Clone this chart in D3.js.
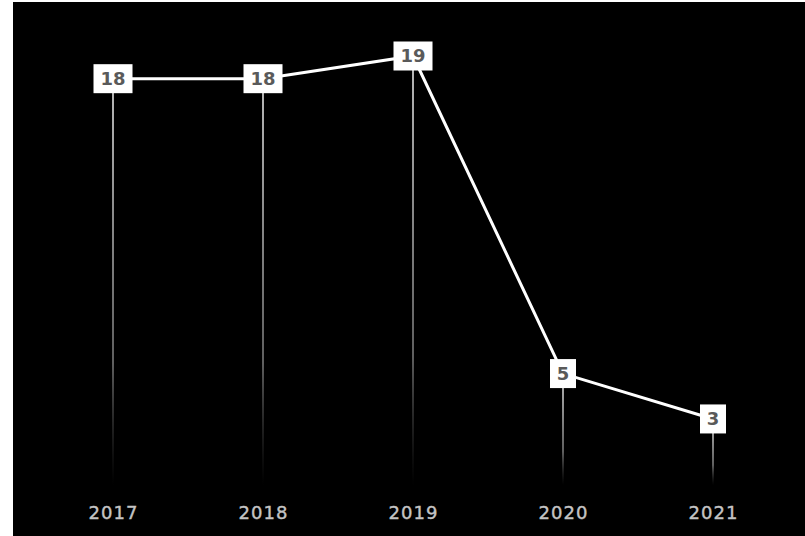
<!DOCTYPE html>
<html><head><meta charset="utf-8">
<script src="https://cdn.jsdelivr.net/npm/d3@7"></script>
<style>
html,body{margin:0;padding:0;background:#fff;}
svg{display:block;}
</style></head>
<body>
<svg id="chart" width="805" height="536"></svg>
<script>
const years = ["2017","2018","2019","2020","2021"];
const values = [18, 18, 19, 5, 3];

const W = 805, H = 536;
const svg = d3.select("#chart");

svg.append("rect").attr("x",13).attr("y",2).attr("width",W-13).attr("height",H-2).attr("fill","#000");

const x = d3.scalePoint().domain(years).range([113, 713]);
const y = d3.scaleLinear().domain([0, 19]).range([487, 56]);

const defs = svg.append("defs");
const grad = defs.append("linearGradient").attr("id","fade").attr("x1",0).attr("y1",0).attr("x2",0).attr("y2",1);
grad.append("stop").attr("offset","0%").attr("stop-color","#bbb").attr("stop-opacity",1);
grad.append("stop").attr("offset","70%").attr("stop-color","#888").attr("stop-opacity",0.7);
grad.append("stop").attr("offset","100%").attr("stop-color","#444").attr("stop-opacity",0);

const data = years.map((yr,i)=>({yr, v: values[i]}));

// vertical stems
svg.selectAll("rect.stem").data(data).enter().append("rect")
  .attr("class","stem")
  .attr("x", d=>x(d.yr)-1)
  .attr("y", d=>y(d.v))
  .attr("width", 2)
  .attr("height", d=>485 - y(d.v))
  .attr("fill","url(#fade)");

// line
svg.append("path").datum(data)
  .attr("d", d3.line().x(d=>x(d.yr)).y(d=>y(d.v)))
  .attr("fill","none").attr("stroke","#fff").attr("stroke-width",3);

// label boxes
const g = svg.selectAll("g.lbl").data(data).enter().append("g")
  .attr("class","lbl")
  .attr("transform", d=>`translate(${x(d.yr)},${y(d.v)})`);
g.append("rect")
  .attr("x", d=> String(d.v).length>1 ? -19.5 : -13)
  .attr("y", -14.5)
  .attr("width", d=> String(d.v).length>1 ? 39 : 26)
  .attr("height", 29)
  .attr("fill","#fff");
g.append("text")
  .attr("text-anchor","middle")
  .attr("dy","0.36em")
  .attr("font-family","DejaVu Sans, sans-serif")
  .attr("font-weight","600")
  .attr("font-size",18)
  .attr("fill","#5a5a5a")
  .text(d=>d.v);

// x axis labels
const axis = d3.axisBottom(x).tickSize(0).tickPadding(0);
const ax = svg.append("g").attr("transform","translate(0,505)").call(axis);
ax.select(".domain").remove();
ax.selectAll("text")
  .attr("font-family","DejaVu Sans, sans-serif")
  .attr("font-size",18)
  .attr("font-weight","normal")
  .attr("letter-spacing","1px")
  .attr("stroke","#c4c4c4")
  .attr("stroke-width",0.4)
  .attr("fill","#c4c4c4")
  .attr("dy","0.75em");
</script>
</body></html>
